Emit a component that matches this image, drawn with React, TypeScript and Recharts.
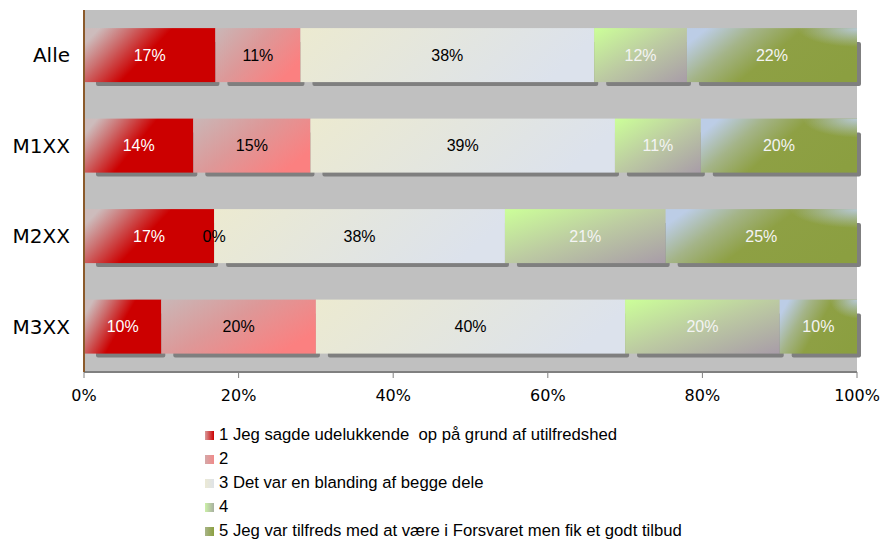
import React from 'react';
import { BarChart, Bar, XAxis, YAxis, CartesianGrid, Legend, LabelList } from 'recharts';

const categories = ['Alle', 'M1XX', 'M2XX', 'M3XX'];
const answer1 = [17, 14, 17, 10];
const answer2 = [11, 15, 0, 20];
const answer3 = [38, 39, 38, 40];
const answer4 = [12, 11, 21, 20];
const answer5 = [22, 20, 25, 10];
const seriesNames = [
  '1 Jeg sagde udelukkende  op på grund af utilfredshed',
  '2',
  '3 Det var en blanding af begge dele',
  '4',
  '5 Jeg var tilfreds med at være i Forsvaret men fik et godt tilbud',
];
const xTicks = [0, 0.2, 0.4, 0.6, 0.8, 1];

const data = categories.map((name, i) => ({
  name,
  a1: answer1[i],
  a2: answer2[i],
  a3: answer3[i],
  a4: answer4[i],
  a5: answer5[i],
}));

const keys = ['a1', 'a2', 'a3', 'a4', 'a5'];
const labelColors = ['#ffffff', '#000000', '#000000', '#f4f4f4', '#f4f4f4'];
const swatches = [
  'linear-gradient(90deg, #d89a9a, #cc0000)',
  'linear-gradient(90deg, #d4a8a8, #f08a8a)',
  'linear-gradient(90deg, #ebe9d4, #dfe3e8)',
  'linear-gradient(90deg, #ccf0a8, #a8b0a0)',
  'linear-gradient(90deg, #a8b488, #8ba040)',
];

const SegShape = (props: any) => {
  const { x, y, width, height, fill, last } = props;
  if (!width || width <= 0) return null;
  return (
    <g>
      <rect x={x + 12} y={y + 14} width={width - 8} height={height - 10} rx={2} fill="#7f7f7f" />
      <rect x={x} y={y} width={width} height={height} fill={fill} />
      {last && <rect x={x} y={y} width={width} height={height} fill="url(#g5corner)" />}
    </g>
  );
};

const LegendBox = () => (
  <div style={{ fontFamily: '"Liberation Sans", Arial, sans-serif', fontSize: 16.7, lineHeight: '24px', color: '#000' }}>
    {seriesNames.map((n, i) => (
      <div key={n} style={{ whiteSpace: 'pre', display: 'flex', alignItems: 'center' }}>
        <span style={{ display: 'inline-block', width: 9, height: 9, background: swatches[i], marginRight: 5 }} />
        {n}
      </div>
    ))}
  </div>
);

export default function App() {
  return (
    <div style={{ position: 'absolute', left: 0, top: 0 }}>
      <BarChart
        width={891}
        height={543}
        data={data}
        layout="vertical"
        stackOffset="expand"
        barCategoryGap="20%"
        margin={{ top: 10, right: 34, left: 0, bottom: 141 }}
      >
        <defs>
          <linearGradient id="g1" x1="0" y1="0.3" x2="1" y2="0.7">
            <stop offset="0" stopColor="#cdbcbc" />
            <stop offset="0.2" stopColor="#cc7070" />
            <stop offset="0.48" stopColor="#cc0000" />
            <stop offset="1" stopColor="#cc0000" />
          </linearGradient>
          <linearGradient id="g2" x1="0" y1="0" x2="1" y2="0.6">
            <stop offset="0" stopColor="#c9b7b7" />
            <stop offset="0.5" stopColor="#dd9898" />
            <stop offset="1" stopColor="#fb8080" />
          </linearGradient>
          <linearGradient id="g3" x1="0" y1="0" x2="1" y2="0.2">
            <stop offset="0" stopColor="#ecead0" />
            <stop offset="1" stopColor="#dce2ec" />
          </linearGradient>
          <linearGradient id="g4" x1="0" y1="0" x2="1" y2="1">
            <stop offset="0" stopColor="#ccff99" />
            <stop offset="0.5" stopColor="#bccaa2" />
            <stop offset="1" stopColor="#a89ca8" />
          </linearGradient>
          <linearGradient id="g5" x1="0" y1="0.3" x2="1" y2="0.7">
            <stop offset="0" stopColor="#bccde6" />
            <stop offset="0.25" stopColor="#a4b488" />
            <stop offset="0.5" stopColor="#8ea044" />
            <stop offset="1" stopColor="#8b9f40" />
          </linearGradient>
          <radialGradient id="g5corner" cx="1" cy="0" r="0.35">
            <stop offset="0" stopColor="#bccde6" stopOpacity="0.9" />
            <stop offset="1" stopColor="#bccde6" stopOpacity="0" />
          </radialGradient>
        </defs>
        <CartesianGrid fill="#c0c0c0" horizontal={false} vertical={false} />
        <XAxis
          type="number"
          domain={[0, 1]}
          ticks={xTicks}
          tickFormatter={(v: number) => `${Math.round(v * 100)}%`}
          axisLine={{ stroke: '#808080', strokeWidth: 2 }}
          tickLine={{ stroke: '#808080' }}
          tickSize={6}
          tickMargin={12}
          height={30}
          interval={0}
          tick={{ fill: '#000', fontSize: 16, fontFamily: '"DejaVu Sans", Verdana, sans-serif' }}
        />
        <YAxis
          type="category"
          dataKey="name"
          width={84}
          axisLine={{ stroke: '#8b5a2b', strokeWidth: 2 }}
          tickLine={false}
          tickMargin={8}
          tick={{ fill: '#000', fontSize: 20, fontFamily: '"DejaVu Sans", Verdana, sans-serif' }}
        />
        <Legend
          layout="vertical"
          align="center"
          verticalAlign="middle"
          wrapperStyle={{ position: 'absolute', top: 423, left: 205, width: 'auto' }}
          content={() => <LegendBox />}
        />
        {keys.map((k, i) => (
          <Bar
            key={k}
            dataKey={k}
            name={seriesNames[i]}
            stackId="s"
            fill={`url(#g${i + 1})`}
            shape={<SegShape last={i === keys.length - 1} />}
            isAnimationActive={false}
          >
            <LabelList
              dataKey={k}
              position="center"
              formatter={(v: any) => `${v}%`}
              fill={labelColors[i]}
              fontSize={16}
              fontFamily='"Liberation Sans", Arial, sans-serif'
            />
          </Bar>
        ))}
      </BarChart>
    </div>
  );
}
